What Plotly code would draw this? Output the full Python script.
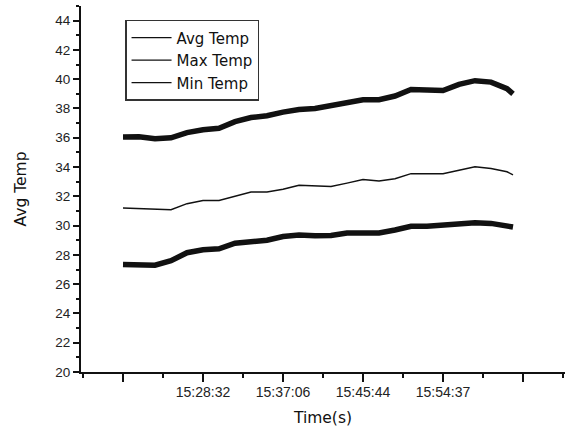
import plotly.graph_objects as go

# sample index (x) and readings
sample_idx = [0, 200, 400, 600, 800, 1000, 1200, 1400, 1600, 1800, 2000, 2200, 2400,
              2600, 2800, 3000, 3200, 3400, 3600, 3800, 4000, 4200, 4400, 4600, 4800, 4875]

max_temp = [36.05, 36.07, 35.93, 36.0, 36.35, 36.55, 36.65, 37.1, 37.38, 37.5, 37.75, 37.93, 38.0,
            38.17, 38.42, 38.6, 38.6, 38.85, 39.3, 39.28, 39.23, 39.65, 39.9, 39.8, 39.35, 39.0]

avg_temp = [31.2, 31.15, 31.1, 31.08, 31.5, 31.72, 31.72, 32.0, 32.29, 32.3, 32.49, 32.75, 32.7,
            32.67, 32.9, 33.15, 33.05, 33.2, 33.55, 33.52, 33.54, 33.78, 34.02, 33.9, 33.68, 33.47]

min_temp = [27.35, 27.35, 27.3, 27.6, 28.15, 28.35, 28.42, 28.8, 28.9, 29.0, 29.25, 29.35, 29.3,
            29.32, 29.5, 29.52, 29.5, 29.7, 29.95, 29.95, 30.05, 30.15, 30.2, 30.15, 29.95, 29.9]

tick_vals = [0, 1000, 2000, 3000, 4000, 5000]
tick_text = ["", "15:28:32", "15:37:06", "15:45:44", "15:54:37", ""]

series_names = ["Avg Temp", "Max Temp", "Min Temp"]

FONT = "Liberation Sans, Arial, sans-serif"
WIDE = "DejaVu Sans, sans-serif"
INK = "#111111"

fig = go.Figure()

# data traces
fig.add_trace(go.Scatter(x=sample_idx, y=max_temp, mode="lines",
                         line=dict(color=INK, width=5.5), showlegend=False))
fig.add_trace(go.Scatter(x=sample_idx, y=avg_temp, mode="lines",
                         line=dict(color=INK, width=1.5), showlegend=False))
fig.add_trace(go.Scatter(x=sample_idx, y=min_temp, mode="lines",
                         line=dict(color=INK, width=5.5), showlegend=False))

# legend entries (thin lines, as in the reference legend)
for name in series_names:
    fig.add_trace(go.Scatter(x=[None], y=[None], mode="lines", name=name,
                             line=dict(color=INK, width=1.3)))

fig.update_layout(
    width=569, height=428,
    margin=dict(l=81, r=4, t=6, b=56, autoexpand=False),
    paper_bgcolor="white", plot_bgcolor="white",
    font=dict(family=FONT, color=INK),
    legend=dict(x=0.091, y=0.962, xanchor="left", yanchor="top",
                bordercolor="#333333", borderwidth=1.5, bgcolor="white",
                font=dict(size=15, family=WIDE, color=INK),
                tracegroupgap=0, itemwidth=40),
    xaxis=dict(range=[-525, 5525], showgrid=False, zeroline=False,
               showline=True, linecolor=INK, linewidth=2, automargin=False,
               tickmode="array", tickvals=tick_vals, ticktext=tick_text,
               ticks="outside", ticklen=8, tickwidth=2, tickcolor=INK,
               ticklabelstandoff=-2,
               tickfont=dict(size=14, family=FONT, color="#222222"),
               minor=dict(dtick=500, tick0=0, ticks="outside", ticklen=4,
                          tickwidth=1.5, tickcolor=INK),
               title=dict(text="Time(s)", font=dict(size=15.5, family=WIDE, color=INK),
                          standoff=13)),
    yaxis=dict(range=[20, 45], showgrid=False, zeroline=False,
               showline=True, linecolor=INK, linewidth=2, automargin=False,
               tick0=20, dtick=2, ticks="outside", ticklen=6, tickwidth=2,
               tickcolor=INK,
               tickfont=dict(size=13.5, family=FONT, color="#222222"),
               minor=dict(dtick=1, ticks="outside", ticklen=3, tickwidth=1.5,
                          tickcolor=INK),
               title=dict(text="Avg Temp", font=dict(size=15.5, family=WIDE, color=INK),
                          standoff=25)),
)

fig.write_html("out.html", config={"displayModeBar": False},
               post_script="document.body.style.margin='0';document.body.style.padding='0';")
